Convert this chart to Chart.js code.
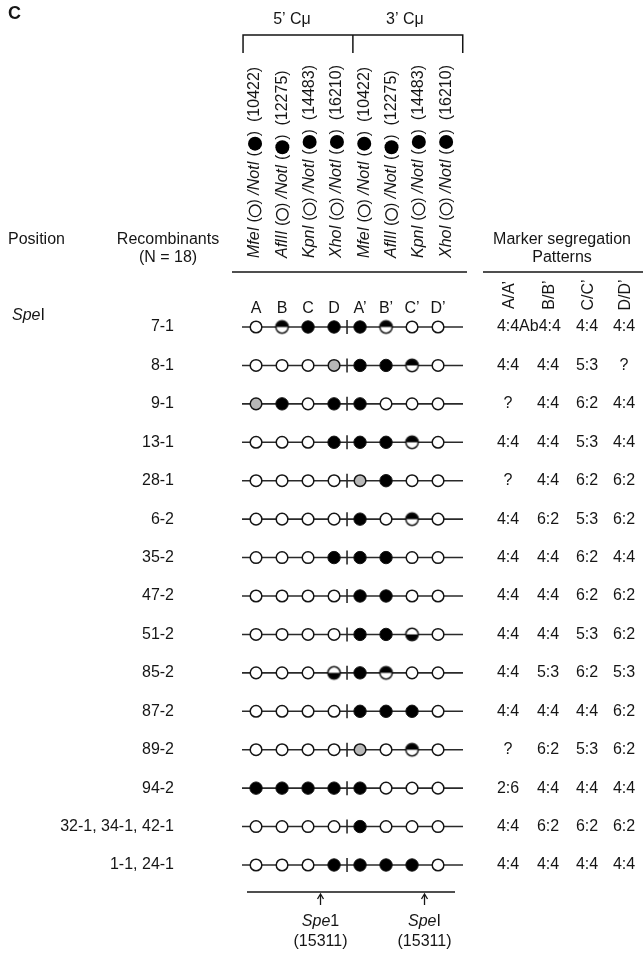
<!DOCTYPE html>
<html><head><meta charset="utf-8">
<script src="https://cdn.jsdelivr.net/npm/chart.js@4.4.1/dist/chart.umd.min.js"></script>
<style>html,body{margin:0;padding:0;background:#fff}canvas{display:block}</style>
</head><body>
<canvas id="c" width="643" height="953"></canvas>
<script>
// ---------------- data ----------------
const panelLabel = 'C';
const recombinants = ['7-1','8-1','9-1','13-1','28-1','6-2','35-2','47-2','51-2','85-2','87-2','89-2','94-2','32-1, 34-1, 42-1','1-1, 24-1'];
const markerLetters = ['A','B','C','D','A’','B’','C’','D’'];
const enzymes = ['MfeI','AflII','KpnI','XhoI'];
const enzymeSites = [10422, 12275, 14483, 16210];
const regionLabels = ['5’ Cμ', '3’ Cμ'];
const speSite = 15311;
const speLabels = [['Spe','1'], ['Spe','I']];
// marker states: o = open (enzyme allele), f = filled (NotI allele), g = grey, t = top half filled, b = bottom half filled
const genotypes = [
  'otffftoo', // 7-1
  'ooogffto', // 8-1
  'gfoffooo', // 9-1
  'ooofffto', // 13-1
  'oooogfoo', // 28-1
  'oooofoto', // 6-2
  'ooofffoo', // 35-2
  'ooooffoo', // 47-2
  'ooooffbo', // 51-2
  'ooobftoo', // 85-2
  'oooofffo', // 87-2
  'oooogoto', // 89-2
  'fffffooo', // 94-2
  'oooofooo', // 32-1, 34-1, 42-1
  'ooofffffo'.slice(0,7) + 'o' // 1-1, 24-1
];
const segHeaders = ['A/A’','B/B’','C/C’','D/D’'];
const segAA = ['4:4Ab','4:4','?','4:4','?','4:4','4:4','4:4','4:4','4:4','4:4','?','2:6','4:4','4:4'];
const segBB = ['4:4','4:4','4:4','4:4','4:4','6:2','4:4','4:4','4:4','5:3','4:4','6:2','4:4','6:2','4:4'];
const segCC = ['4:4','5:3','6:2','5:3','6:2','5:3','6:2','6:2','5:3','6:2','4:4','5:3','4:4','6:2','4:4'];
const segDD = ['4:4','?','4:4','4:4','6:2','6:2','4:4','6:2','6:2','5:3','6:2','6:2','4:4','6:2','4:4'];

// ---------------- helpers ----------------
const FONT = "'Liberation Sans', Arial, Helvetica, sans-serif";
const INK = '#151515';
function setFont(ctx, size, italic, bold) {
  ctx.font = (italic ? 'italic ' : '') + (bold ? 'bold ' : '') + size + 'px ' + FONT;
}
function halfImg(top) {
  const c = document.createElement('canvas');
  c.width = 17; c.height = 17;
  const g = c.getContext('2d');
  const r = 6.2, cx = 8.5, cy = 8.5;
  g.beginPath(); g.arc(cx, cy, r, 0, Math.PI * 2); g.fillStyle = '#fff'; g.fill();
  g.save(); g.beginPath(); g.arc(cx, cy, r, 0, Math.PI * 2); g.clip();
  g.fillStyle = '#000'; g.fillRect(0, top ? 0 : cy, 17, 8.5); g.restore();
  g.beginPath(); g.arc(cx, cy, r, 0, Math.PI * 2); g.lineWidth = 1.5; g.strokeStyle = INK; g.stroke();
  return c;
}
function richWidth(ctx, segs, size) {
  let w = 0;
  for (const s of segs) {
    if (s.c) w += s.r * 2 + 1;
    else { setFont(ctx, size, s.i); w += ctx.measureText(s.t).width; }
  }
  return w;
}
function drawRich(ctx, segs, x, y, size, align) {
  const w = richWidth(ctx, segs, size);
  let cx = align === 'center' ? x - w / 2 : (align === 'right' ? x - w : x);
  ctx.textAlign = 'left'; ctx.textBaseline = 'middle'; ctx.fillStyle = INK;
  for (const s of segs) {
    if (s.c) {
      ctx.beginPath(); ctx.arc(cx + s.r + 0.5, y, s.r, 0, Math.PI * 2);
      if (s.c === 'f') { ctx.fillStyle = '#000'; ctx.fill(); }
      else { ctx.lineWidth = 1.3; ctx.strokeStyle = INK; ctx.stroke(); }
      ctx.fillStyle = INK;
      cx += s.r * 2 + 1;
    } else {
      setFont(ctx, size, s.i);
      ctx.fillText(s.t, cx, y);
      cx += ctx.measureText(s.t).width;
    }
  }
}
function sitePosition(site, offset) {
  for (let j = 0; j < enzymeSites.length - 1; j++) {
    if (site >= enzymeSites[j] && site <= enzymeSites[j + 1]) {
      return offset + j + (site - enzymeSites[j]) / (enzymeSites[j + 1] - enzymeSites[j]);
    }
  }
  return offset;
}

// ---------------- datasets ----------------
const stateStyle = {
  o: { bg: '#ffffff', style: 'circle', r: 5.8, bw: 1.5 },
  f: { bg: '#000000', style: 'circle', r: 6.2, bw: 1 },
  g: { bg: '#b8b8b8', style: 'circle', r: 5.8, bw: 1.5 },
  t: { bg: '#ffffff', style: halfImg(true), r: 6.2, bw: 0 },
  b: { bg: '#ffffff', style: halfImg(false), r: 6.2, bw: 0 }
};
const datasets = Object.keys(stateStyle).map(code => {
  const st = stateStyle[code];
  const data = [];
  genotypes.forEach((g, i) => {
    for (let j = 0; j < g.length; j++) if (g[j] === code) data.push({ x: j, y: recombinants[i] });
  });
  return {
    label: code, data, clip: false,
    pointStyle: st.style, pointRadius: st.r, pointHoverRadius: st.r,
    backgroundColor: st.bg, borderColor: INK, borderWidth: st.bw, pointBorderWidth: st.bw
  };
});

// ---------------- decorations ----------------
const figurePlugin = {
  id: 'figure',
  beforeDatasetsDraw(chart) {
    const { ctx, chartArea: ca, scales: { x, y } } = chart;
    ctx.save();
    ctx.strokeStyle = '#2a2a2a'; ctx.lineWidth = 1.6;
    recombinants.forEach((r, i) => {
      const py = y.getPixelForValue(i);
      ctx.beginPath(); ctx.moveTo(ca.left, py); ctx.lineTo(ca.right, py); ctx.stroke();
      const tx = x.getPixelForValue(3.5);
      ctx.beginPath(); ctx.moveTo(tx, py - 7); ctx.lineTo(tx, py + 7); ctx.stroke();
    });
    ctx.restore();
  },
  afterDraw(chart) {
    const { ctx, chartArea: ca, scales: { x, y } } = chart;
    ctx.save();
    ctx.fillStyle = INK; ctx.strokeStyle = INK;
    // panel label
    setFont(ctx, 18, false, true); ctx.textAlign = 'left'; ctx.textBaseline = 'middle';
    ctx.fillText(panelLabel, 8, 14);

    // bracket
    const bl = x.getPixelForValue(-0.5), br = x.getPixelForValue(7.95), bm = (bl + br) / 2;
    ctx.lineWidth = 1.5;
    ctx.beginPath();
    ctx.moveTo(bl, 53); ctx.lineTo(bl, 35); ctx.lineTo(br, 35); ctx.lineTo(br, 53);
    ctx.moveTo(bm, 35); ctx.lineTo(bm, 53); ctx.stroke();
    setFont(ctx, 16); ctx.textAlign = 'center';
    ctx.fillText(regionLabels[0], (bl + bm) / 2 - 6, 20);
    ctx.fillText(regionLabels[1], (bm + br) / 2 - 3, 20);

    // rotated enzyme headers
    for (let j = 0; j < 8; j++) {
      const e = j % 4;
      const cx = x.getPixelForValue(j) + j * 1.3 - 1;
      const segs = [
        { t: enzymes[e], i: true }, { t: ' (' }, { c: 'o', r: 5.8 }, { t: ') ' },
        { t: '/NotI', i: true }, { t: ' (' }, { c: 'f', r: 7 }, { t: ')  (' + enzymeSites[e] + ')' }
      ];
      ctx.save(); ctx.translate(cx, 258); ctx.rotate(-Math.PI / 2);
      drawRich(ctx, segs, 0, 0, 16, 'left');
      ctx.restore();
    }
    // header underlines
    ctx.lineWidth = 1.6;
    ctx.beginPath(); ctx.moveTo(ca.left - 10, 272); ctx.lineTo(ca.right + 4, 272); ctx.stroke();
    ctx.beginPath(); ctx.moveTo(ca.right + 20, 272); ctx.lineTo(643, 272); ctx.stroke();

    // left headers
    setFont(ctx, 16); ctx.textAlign = 'left'; ctx.fillStyle = INK;
    ctx.fillText('Position', 8, 240);
    ctx.textAlign = 'center';
    ctx.fillText('Recombinants', 168, 240);
    ctx.fillText('(N = 18)', 168, 258);
    drawRich(ctx, [{ t: 'Spe', i: true }, { t: 'I' }], 12, 316, 16, 'left');

    // right headers
    setFont(ctx, 16); ctx.textAlign = 'center'; ctx.textBaseline = 'middle';
    ctx.fillText('Marker segregation', ca.right + 99, 240);
    ctx.fillText('Patterns', ca.right + 99, 258);
    const segCols = [ca.right + 45, ca.right + 85, ca.right + 124, ca.right + 161];
    segHeaders.forEach((h, k) => {
      ctx.save(); ctx.translate(segCols[k] + 2, 295); ctx.rotate(-Math.PI / 2);
      setFont(ctx, 16); ctx.textAlign = 'center'; ctx.textBaseline = 'middle';
      ctx.fillText(h, 0, 0); ctx.restore();
    });

    // segregation values
    const cols = [segAA, segBB, segCC, segDD];
    setFont(ctx, 16); ctx.textBaseline = 'middle';
    const ref = ctx.measureText('4:4').width;
    recombinants.forEach((r, i) => {
      const py = y.getPixelForValue(i);
      let prevEnd = -Infinity;
      cols.forEach((col, k) => {
        const t = col[i];
        const w = ctx.measureText(t).width;
        let left = w > ref + 1 ? segCols[k] - ref / 2 : segCols[k] - w / 2;
        if (left < prevEnd) left = prevEnd;
        ctx.textAlign = 'left';
        ctx.fillText(t, left, py);
        prevEnd = left + w;
      });
    });

    // bottom map line and SpeI sites
    const lineY = 892;
    ctx.lineWidth = 1.5;
    ctx.beginPath(); ctx.moveTo(ca.left + 5, lineY); ctx.lineTo(ca.right - 8, lineY); ctx.stroke();
    [0, 4].forEach((off, k) => {
      const ax = x.getPixelForValue(sitePosition(speSite, off));
      ctx.lineWidth = 1.3;
      ctx.beginPath(); ctx.moveTo(ax, 905); ctx.lineTo(ax, 895); ctx.stroke();
      ctx.beginPath(); ctx.moveTo(ax - 3, 899); ctx.lineTo(ax, 894); ctx.lineTo(ax + 3, 899); ctx.stroke();
      drawRich(ctx, [{ t: speLabels[k][0], i: true }, { t: speLabels[k][1] }], ax, 922, 16, 'center');
      setFont(ctx, 16); ctx.textAlign = 'center';
      ctx.fillText('(' + speSite + ')', ax, 942);
    });
    ctx.restore();
  }
};

new Chart(document.getElementById('c'), {
  type: 'scatter',
  data: { datasets },
  options: {
    responsive: false, animation: false, devicePixelRatio: 1,
    layout: { padding: { left: 0, right: 180, top: 0, bottom: 88 } },
    plugins: { legend: { display: false }, tooltip: { enabled: false } },
    scales: {
      x: {
        type: 'linear', position: 'top', min: -0.54, max: 7.96,
        grid: { display: false, drawTicks: false }, border: { display: false },
        afterBuildTicks: s => { s.ticks = markerLetters.map((_, i) => ({ value: i })); },
        afterFit: s => { s.height = 327; },
        ticks: { padding: 9, autoSkip: false, maxRotation: 0, color: INK,
                 font: { family: FONT, size: 16 }, callback: v => markerLetters[v] }
      },
      y: {
        type: 'category', labels: recombinants, offset: false, position: 'left',
        grid: { display: false, drawTicks: false }, border: { display: false },
        afterFit: s => { s.width = 242; },
        ticks: { padding: 68, autoSkip: false, color: INK, font: { family: FONT, size: 16 } }
      }
    }
  },
  plugins: [figurePlugin]
});
</script>
</body></html>
